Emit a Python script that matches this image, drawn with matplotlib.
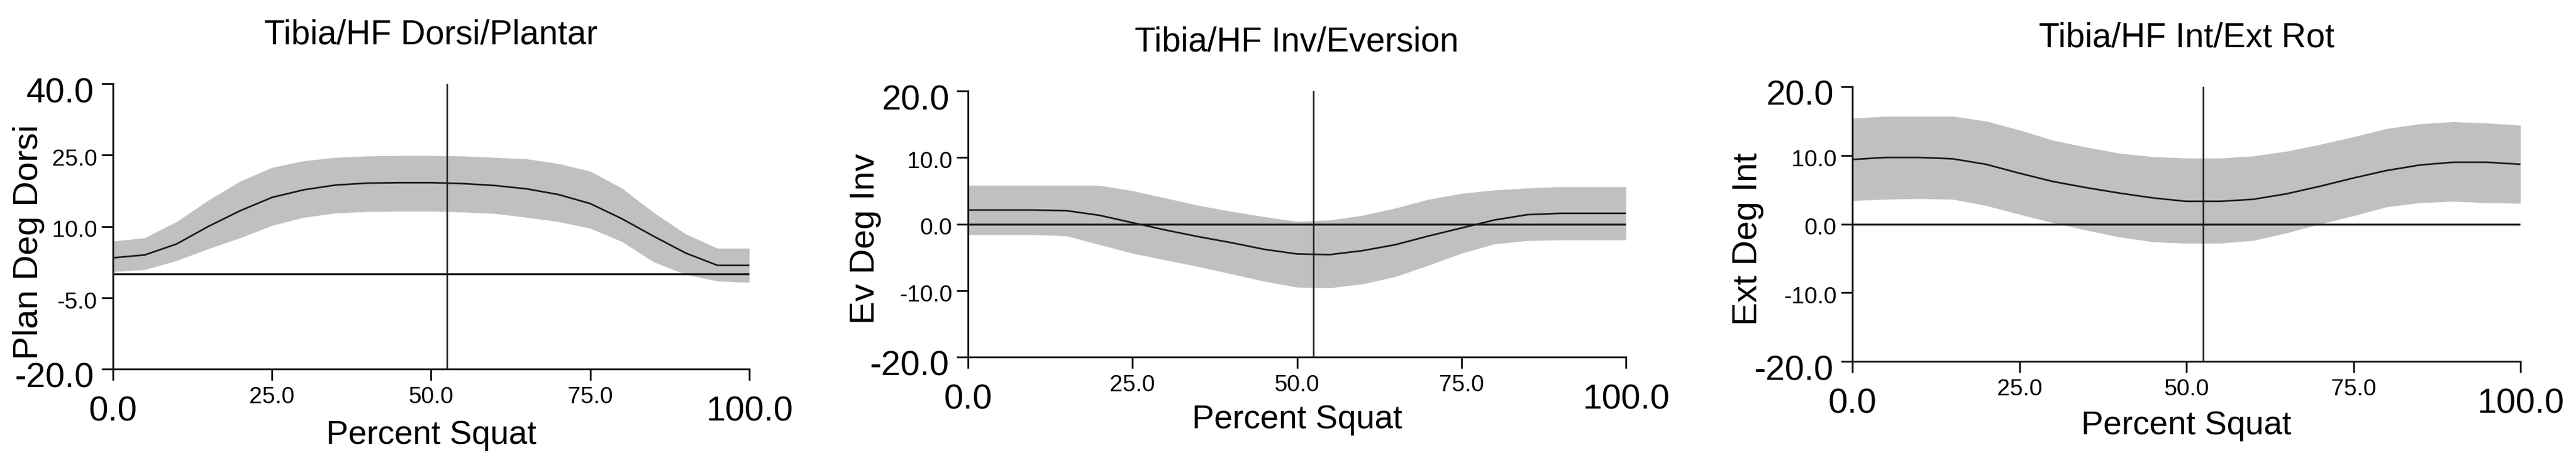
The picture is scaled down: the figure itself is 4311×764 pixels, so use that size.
import matplotlib.pyplot as plt
from matplotlib.transforms import ScaledTranslation

plt.rcParams['font.family'] = ['Liberation Sans', 'DejaVu Sans']

# ---------------- data ----------------
pct = [0, 5, 10, 15, 20, 25, 30, 35, 40, 45, 50,
       55, 60, 65, 70, 75, 80, 85, 90, 95, 100]

event_pct = 52.5   # vertical event marker

titles = ["Tibia/HF Dorsi/Plantar", "Tibia/HF Inv/Eversion", "Tibia/HF Int/Ext Rot"]
ylabels = ["Plan Deg Dorsi", "Ev Deg Inv", "Ext Deg Int"]
xlabel = "Percent Squat"

# Dorsi / Plantar
dp_mean = [3.4, 4.0, 6.3, 10.0, 13.3, 16.1, 17.7, 18.7, 19.1, 19.2, 19.2,
           19.0, 18.6, 17.9, 16.7, 14.8, 11.6, 7.9, 4.4, 1.8, 1.8]
dp_upper = [6.9, 7.6, 11.0, 15.5, 19.5, 22.4, 23.8, 24.5, 24.8, 24.9, 24.9,
            24.8, 24.5, 24.2, 23.2, 21.6, 18.0, 12.9, 8.4, 5.4, 5.4]
dp_lower = [0.5, 0.9, 2.8, 5.3, 7.6, 10.2, 11.9, 12.8, 13.1, 13.2, 13.2,
            13.0, 12.7, 11.9, 11.0, 9.6, 6.8, 2.5, -0.1, -1.5, -1.8]

# Inv / Eversion
ie_mean = [2.1, 2.1, 2.1, 2.0, 1.3, 0.2, -0.9, -1.9, -2.8, -3.8, -4.5,
           -4.6, -4.0, -3.1, -1.8, -0.6, 0.6, 1.4, 1.6, 1.6, 1.6]
ie_upper = [5.8, 5.8, 5.8, 5.8, 5.8, 5.0, 3.9, 2.8, 1.9, 1.1, 0.4,
            0.6, 1.3, 2.4, 3.7, 4.6, 5.1, 5.4, 5.6, 5.6, 5.6]
ie_lower = [-1.6, -1.6, -1.6, -1.8, -3.1, -4.4, -5.4, -6.4, -7.5, -8.6, -9.5,
            -9.6, -9.0, -7.9, -6.2, -4.4, -3.0, -2.5, -2.4, -2.4, -2.4]

# Int / Ext rotation
ier_mean = [9.4, 9.7, 9.7, 9.5, 8.7, 7.4, 6.2, 5.3, 4.5, 3.8, 3.3,
            3.3, 3.6, 4.4, 5.5, 6.7, 7.8, 8.6, 9.0, 9.0, 8.7]
ier_upper = [15.4, 15.7, 15.7, 15.7, 15.0, 13.7, 12.2, 11.2, 10.3, 9.8, 9.6,
             9.6, 9.9, 10.6, 11.6, 12.7, 13.9, 14.6, 14.9, 14.7, 14.4]
ier_lower = [3.4, 3.6, 3.7, 3.6, 2.7, 1.4, 0.2, -0.9, -1.9, -2.6, -2.8,
             -2.8, -2.4, -1.3, 0.0, 1.2, 2.5, 3.1, 3.3, 3.1, 3.0]

means = [dp_mean, ie_mean, ier_mean]
uppers = [dp_upper, ie_upper, ier_upper]
lowers = [dp_lower, ie_lower, ier_lower]

xticks = [0, 25, 50, 75, 100]
yticks = [[-20, -5, 10, 25, 40], [-20, -10, 0, 10, 20], [-20, -10, 0, 10, 20]]

# ---------------- layout ----------------
W, H = 4311, 764
# axes boxes in pixels: left, top, right, bottom
boxes = [(189, 140, 1254, 617), (1620, 152, 2721, 597), (3100, 145, 4218, 604)]
ylabel_x = [-0.107, -0.132, -0.132]

band_col = '#c0c0c0'
ink = '#1a1a1a'

fig = plt.figure(figsize=(W / 100, H / 100), dpi=100)

for i in range(3):
    l, t, r, b = boxes[i]
    ax = fig.add_axes([l / W, 1 - b / H, (r - l) / W, (b - t) / H])

    ax.fill_between(pct, lowers[i], uppers[i], color=band_col, lw=0, zorder=1)
    ax.axhline(0, color=ink, lw=2.4, zorder=2)
    ax.plot(pct, means[i], color=ink, lw=2.0, zorder=3)
    ax.axvline(event_pct, color=ink, lw=1.8, zorder=4)

    ax.set_xlim(0, 100)
    ax.set_ylim(yticks[i][0], yticks[i][-1])

    for s in ['top', 'right']:
        ax.spines[s].set_visible(False)
    for s in ['left', 'bottom']:
        ax.spines[s].set_linewidth(2.2)
        ax.spines[s].set_color(ink)

    ax.tick_params(direction='out', length=14, width=2.2, color=ink)

    ax.set_xticks(xticks)
    ax.set_xticklabels([f"{v:.1f}" for v in xticks])
    ax.set_yticks(yticks[i])
    ax.set_yticklabels([f"{v:.1f}" for v in yticks[i]])

    # end ticks are drawn large, inner ticks small
    xt = ax.xaxis.get_major_ticks()
    for k, tk in enumerate(xt):
        end = k in (0, len(xt) - 1)
        tk.set_pad(18 if end else 7)
        tk.label1.set_fontsize(42 if end else 28)
    yt = ax.yaxis.get_major_ticks()
    for k, tk in enumerate(yt):
        end = k in (0, len(yt) - 1)
        tk.set_pad(9 if end else 5)
        tk.label1.set_fontsize(42 if end else 28)
        dy = -0.10 if end else -0.04
        tk.label1.set_transform(tk.label1.get_transform() +
                                ScaledTranslation(0, dy, fig.dpi_scale_trans))

    ax.set_title(titles[i], fontsize=41, pad=48)
    ax.set_ylabel(ylabels[i], fontsize=42)
    ax.yaxis.set_label_coords(ylabel_x[i], 0.445)
    ax.set_xlabel(xlabel, fontsize=40)
    ax.xaxis.set_label_coords(0.5, -0.178)

fig.savefig("out.png", dpi=100)
